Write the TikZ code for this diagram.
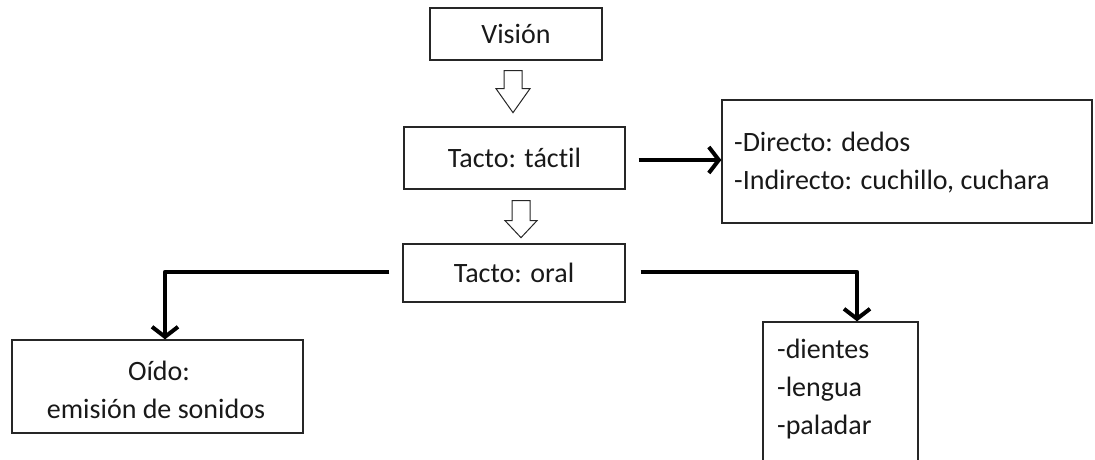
\documentclass[tikz,border=0pt]{standalone}
\usepackage{fontspec}
\setmainfont{Carlito}[Ligatures={NoCommon}]
\usetikzlibrary{arrows.meta,calc}
\begin{document}
\begin{tikzpicture}[x=1pt,y=-1pt,
  box/.style={draw=black!85, line width=1.3pt, inner sep=0pt},
  txt/.style={font=\fontsize{28}{31}\selectfont, inner sep=0pt, text=black!90},
  conn/.style={line width=4.5pt, line join=round, -{Straight Barb[length=10pt,width=26pt,line width=4pt]}},
  hollow/.style={draw=black!85, line width=1pt, fill=white, line join=miter}]
\clip (0,0) rectangle (1095,460);
\fill[white] (0,0) rectangle (1095,460);

% boxes
\node[box, txt, minimum width=172pt, minimum height=52pt] (vision) at (516,34) {Visión};
\node[box, txt, minimum width=221pt, minimum height=62pt] (tactil) at (514.5,158) {Tacto: táctil};
\node[box, txt, minimum width=222pt, minimum height=58pt] (oral) at (514,273) {Tacto: oral};
\node[box, minimum width=291pt, minimum height=93pt] (oido) at (157.5,386.5) {};
\node[box, minimum width=370pt, minimum height=123pt] (directo) at (907,161.5) {};
\node[box, minimum width=155pt, minimum height=178pt] (lista) at (840.5,411) {};

% texts
\node[txt, anchor=base] (oidoA) at (159,380) {Oído:};
\node[txt, anchor=base] (oidoB) at (156,418) {emisión de sonidos};
\node[txt, anchor=base west] (dirA) at (734,151) {-Directo: dedos};
\node[txt, anchor=base west] (dirB) at (734,189) {-Indirecto: cuchillo, cuchara};
\node[txt, anchor=base west] (lisA) at (777,358) {-dientes};
\node[txt, anchor=base west] (lisB) at (777,396) {-lengua};
\node[txt, anchor=base west] (lisC) at (777,434) {-paladar};

% hollow arrows
\coordinate (a1) at ($(vision.south)+(-3,10)$);
\draw[hollow] (a1) ++(-9,0) -- ++(0,18) -- ++(-8,0) -- ++(17,24) -- ++(17,-24) -- ++(-8,0) -- ++(0,-18) -- cycle;
\coordinate (a2) at ($(tactil.south)+(6.5,11)$);
\draw[hollow] (a2) ++(-9,0) -- ++(0,20) -- ++(-7,0) -- ++(16,17) -- ++(16,-17) -- ++(-7,0) -- ++(0,-20) -- cycle;

% connectors
\draw[conn] ($(tactil.east)+(13,2)$) -- ($(tactil.east -| directo.west)+(0,2)$);
\draw[conn] ($(oral.west)+(-13,-1)$) -| ($(oido.north)+(7.5,0)$);
\draw[conn] ($(oral.east)+(15,-1)$) -| ($(lista.north)+(16.5,0)$);
\end{tikzpicture}
\end{document}
